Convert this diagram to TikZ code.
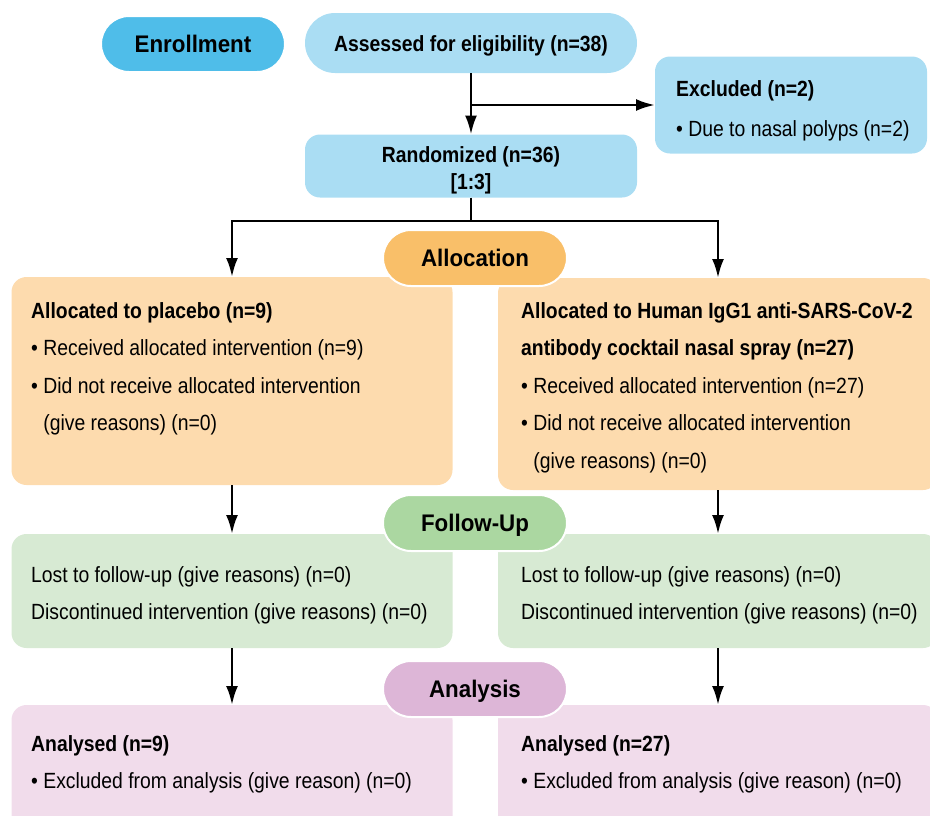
\documentclass[tikz,border=0pt]{standalone}
\usepackage{fontspec}
\setmainfont{Liberation Sans}[FakeStretch=0.88]
\newfontfamily\phasefont{Liberation Sans}[FakeStretch=0.93]
\usepackage{tikz}
\usetikzlibrary{arrows.meta}

\definecolor{enrollblue}{HTML}{4FBDE9}
\definecolor{lightblue}{HTML}{AADDF3}
\definecolor{alloclabel}{HTML}{F9BF69}
\definecolor{allocbox}{HTML}{FDDBAE}
\definecolor{fulabel}{HTML}{ABD7A1}
\definecolor{fubox}{HTML}{D7EAD3}
\definecolor{anlabel}{HTML}{DDB6D7}
\definecolor{anbox}{HTML}{F1DCEB}

\tikzset{
  phase/.style={rounded corners=28pt, draw=white, line width=2pt, inner sep=0pt,
    minimum width=184pt, minimum height=56pt, text height=17pt, text depth=0pt,
    font=\phasefont\fontsize{24}{28}\selectfont\bfseries},
  box/.style={rounded corners=15pt, inner sep=0pt, outer sep=0pt},
  txt/.style={align=left, inner sep=0pt, anchor=north west,
    font=\fontsize{22}{37.5}\selectfont},
  arr/.style={line width=2.7pt, -{Latex[length=19pt,width=12pt]}},
}

\begin{document}
\begin{tikzpicture}[x=1pt,y=-1pt]
\useasboundingbox (0,0) rectangle (930,815);
\clip (0,0) rectangle (930,815);
% enrollment
\node[box, fill=lightblue, rounded corners=30pt, minimum width=332pt, minimum height=60pt,
  text height=17pt, text depth=0pt, font=\fontsize{22}{26}\selectfont\bfseries]
  (assess) at (471,43) {Assessed for eligibility (n=38)};
\node[box, fill=lightblue, minimum width=272pt, minimum height=97pt] (excl) at (791,105) {};
\node[txt, font=\fontsize{22}{40}\selectfont] (excltxt) at (676,80) {\textbf{Excluded (n=2)}\\
  • Due to nasal polyps (n=2)};
\node[box, fill=lightblue, minimum width=332pt, minimum height=63pt] (rand) at (471,166) {};
\node[txt, anchor=north, align=center, font=\fontsize{22}{27}\selectfont\bfseries]
  (randtxt) at (471,146) {Randomized (n=36)\\{}[1:3]};
\node[phase, fill=enrollblue] (enroll) at (193,44) {Enrollment};
\draw[arr] (assess.south) -- (rand.north);% main line
\draw[arr] (assess.south |- excl.west) -- (excl.west);
\coordinate (split) at (471,221);
\draw[line width=2.7pt] (rand.south) -- (split);
% allocation
\node[box, fill=allocbox, minimum width=441pt, minimum height=208pt] (allocL) at (232,381) {};
\node[box, fill=allocbox, minimum width=440pt, minimum height=212pt] (allocR) at (718,384) {};
\draw[arr] (split) -| (allocL.north);
\draw[arr] (split) -| (allocR.north);
\node[txt] (allocLtxt) at (31,302) {\textbf{Allocated to placebo (n=9)}\\
  • Received allocated intervention (n=9)\\
  • Did not receive allocated intervention\\
  \phantom{• }(give reasons) (n=0)};
\node[txt] (allocRtxt) at (521,302) {\textbf{Allocated to Human IgG1 anti-SARS-CoV-2}\\
  \textbf{antibody cocktail nasal spray (n=27)}\\
  • Received allocated intervention (n=27)\\
  • Did not receive allocated intervention\\
  \phantom{• }(give reasons) (n=0)};
\node[phase, fill=alloclabel] (alloc) at (475,258) {Allocation};
% follow-up
\node[box, fill=fubox, minimum width=441pt, minimum height=114pt] (fuL) at (232,591) {};
\node[box, fill=fubox, minimum width=440pt, minimum height=114pt] (fuR) at (718,591) {};
\draw[arr] (allocL.south) -- (fuL.north);
\draw[arr] (allocR.south) -- (fuR.north);
\node[txt] (fuLtxt) at (31,566) {Lost to follow-up (give reasons) (n=0)\\
  Discontinued intervention (give reasons) (n=0)};
\node[txt] (fuRtxt) at (521,566) {Lost to follow-up (give reasons) (n=0)\\
  Discontinued intervention (give reasons) (n=0)};
\node[phase, fill=fulabel] (fu) at (475,523) {Follow-Up};
% analysis
\node[box, fill=anbox, minimum width=441pt, minimum height=130pt] (anL) at (232,770) {};
\node[box, fill=anbox, minimum width=440pt, minimum height=130pt] (anR) at (718,770) {};
\draw[arr] (fuL.south) -- (anL.north);
\draw[arr] (fuR.south) -- (anR.north);
\node[txt] (anLtxt) at (31,735) {\textbf{Analysed (n=9)}\\
  • Excluded from analysis (give reason) (n=0)};
\node[txt] (anRtxt) at (521,735) {\textbf{Analysed (n=27)}\\
  • Excluded from analysis (give reason) (n=0)};
\node[phase, fill=anlabel] (an) at (475,689) {Analysis};
\end{tikzpicture}
\end{document}
